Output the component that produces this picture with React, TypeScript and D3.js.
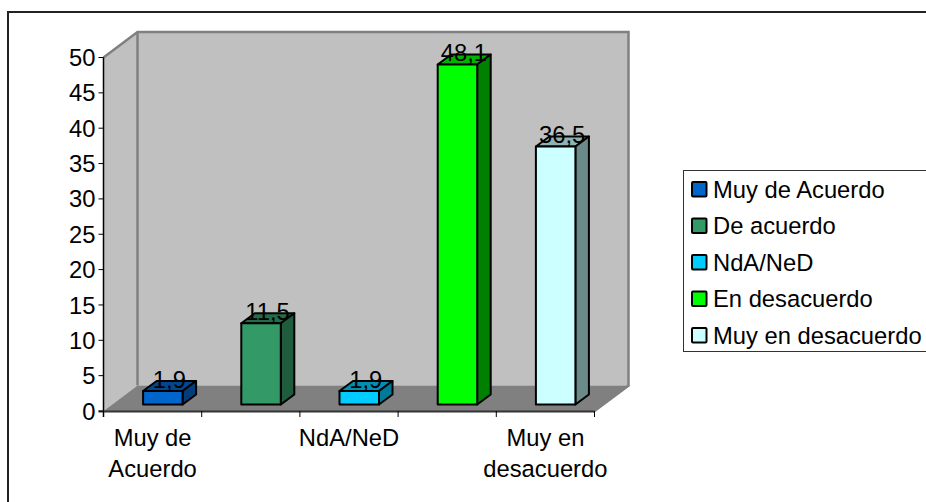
import React from "react";
import * as d3 from "d3";

const categories = ["Muy de Acuerdo", "De acuerdo", "NdA/NeD", "En desacuerdo", "Muy en desacuerdo"];
const values = [1.9, 11.5, 1.9, 48.1, 36.5];
const valueLabels = ["1,9", "11,5", "1,9", "48,1", "36,5"];
const frontColors = ["#0066cc", "#339966", "#00ccff", "#00ff00", "#ccffff"];
const topColors = ["#00478f", "#246b47", "#008fb3", "#00b300", "#8fb3b3"];
const sideColors = ["#003d7a", "#1f5c3d", "#007a99", "#008000", "#6b8a8a"];
const yTicks = d3.range(0, 51, 5);
const axisLabels: string[][] = [["Muy de", "Acuerdo"], [], ["NdA/NeD"], [], ["Muy en", "desacuerdo"]];

const FONT = "'Liberation Sans', Arial, sans-serif";
const FS = 23.75;
const X0 = 103.5, X1 = 594.5, Y0 = 411, Y50 = 57.5;
const DX = 34, DY = -25.5;
const BAR_W = 39.5, BD_X = 13.5, BD_Y = -10, BAR_BOTTOM_OFFSET = 6.5, BAR_SHIFT = 10.25;

const y = d3.scaleLinear().domain([0, 50]).range([Y0, Y50]);
const x = d3.scaleBand<number>().domain(d3.range(5)).range([X0, X1]);
const poly = (pts: [number, number][]) => d3.line()(pts) + "Z";

export default function App() {
  return (
    <svg width={926} height={502} style={{ position: "absolute", left: 0, top: 0, background: "#fff" }} fontFamily={FONT}>
      <path d="M8,503V12H927" fill="none" stroke="#222" strokeWidth={2} />
      {/* walls */}
      <path d={poly([[X0, Y50], [X0 + DX, Y50 + DY], [X0 + DX, Y0 + DY], [X0, Y0]])} fill="#c0c0c0" />
      <path d={poly([[X0 + DX, Y50 + DY], [X1 + DX, Y50 + DY], [X1 + DX, Y0 + DY], [X0 + DX, Y0 + DY]])} fill="#c0c0c0" />
      <path d={poly([[X0, Y0], [X0 + DX, Y0 + DY], [X1 + DX, Y0 + DY], [X1, Y0]])} fill="#808080" />
      <path d={`M${X0},${Y50}L${X0 + DX},${Y50 + DY}L${X1 + DX},${Y50 + DY}L${X1 + DX},${Y0 + DY}L${X1},${Y0}`} fill="none" stroke="#808080" strokeWidth={2.5} />
      <line x1={X0 + DX} x2={X0 + DX} y1={Y50 + DY} y2={Y0 + DY} stroke="#808080" strokeWidth={2.5} />
      {/* axes */}
      <line x1={X0} x2={X0} y1={Y50} y2={Y0 + 6} stroke="#000" strokeWidth={1.5} />
      <line x1={X0 - 5} x2={X1} y1={Y0 + 0.5} y2={Y0 + 0.5} stroke="#333" strokeWidth={2} />
      {yTicks.map((t) => (
        <g key={t}>
          <line x1={X0 - 5} x2={X0} y1={y(t)} y2={y(t)} stroke="#000" />
          <text x={X0 - 8} y={y(t)} dy="0.36em" textAnchor="end" fontSize={FS}>{t}</text>
        </g>
      ))}
      {d3.range(6).map((i) => {
        const px = i < 5 ? x(i)! : X1;
        return <line key={i} x1={px} x2={px} y1={Y0} y2={Y0 + 6} stroke="#000" />;
      })}
      {axisLabels.map((lines, i) =>
        lines.map((l, j) => (
          <text key={`${i}-${j}`} x={x(i)! + x.bandwidth() / 2} y={446 + j * 31} textAnchor="middle" fontSize={FS}>{l}</text>
        ))
      )}
      {/* bars */}
      {values.map((v, i) => {
        const left = x(i)! + (x.bandwidth() - BAR_W) / 2 + BAR_SHIFT;
        const right = left + BAR_W;
        const bottom = Y0 - BAR_BOTTOM_OFFSET;
        const top = y(v) - BAR_BOTTOM_OFFSET;
        return (
          <g key={i} stroke="#000" strokeWidth={2} strokeLinejoin="round">
            <path d={poly([[left, top], [left + BD_X, top + BD_Y], [right + BD_X, top + BD_Y], [right, top]])} fill={topColors[i]} />
            <path d={poly([[right, top], [right + BD_X, top + BD_Y], [right + BD_X, bottom + BD_Y], [right, bottom]])} fill={sideColors[i]} />
            <rect x={left} y={top} width={BAR_W} height={bottom - top} fill={frontColors[i]} />
          </g>
        );
      })}
      {values.map((v, i) => (
        <text key={i} x={x(i)! + x.bandwidth() / 2 + BAR_SHIFT + 6.5} y={y(v) - BAR_BOTTOM_OFFSET - 3} textAnchor="middle" fontSize={FS} fill="#000">{valueLabels[i]}</text>
      ))}
      {/* legend */}
      <rect x={683.5} y={170.5} width={260} height={181} fill="#fff" stroke="#333" />
      {categories.map((c, i) => {
        const cy = 189 + i * 36.5;
        return (
          <g key={c}>
            <rect x={692} y={cy - 7} width={14.5} height={14.5} rx={1} fill={frontColors[i]} stroke="#000" strokeWidth={2} />
            <text x={713} y={cy} dy="0.36em" fontSize={FS}>{c}</text>
          </g>
        );
      })}
    </svg>
  );
}
